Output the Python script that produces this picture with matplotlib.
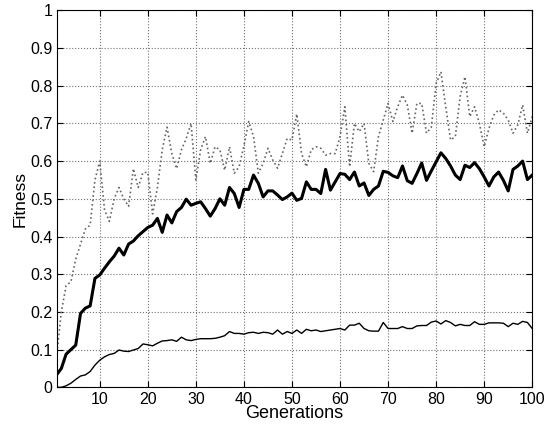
import numpy as np
import matplotlib
matplotlib.use("Agg")
import matplotlib.pyplot as plt

plt.rcParams["font.family"] = ["Liberation Sans", "DejaVu Sans"]

generations = np.arange(1, 101)

# best fitness per generation (dotted)
best = [
    0.08, 0.20, 0.27, 0.28, 0.34, 0.38, 0.42, 0.43, 0.55, 0.60,
    0.47, 0.44, 0.50, 0.53, 0.50, 0.48, 0.58, 0.53, 0.57, 0.57,
    0.46, 0.53, 0.63, 0.69, 0.62, 0.58, 0.63, 0.66, 0.70, 0.55,
    0.63, 0.665, 0.594, 0.638, 0.63, 0.576, 0.638, 0.568, 0.585, 0.64,
    0.705, 0.665, 0.568, 0.594, 0.634, 0.603, 0.581, 0.62, 0.66, 0.656,
    0.725, 0.62, 0.585, 0.63, 0.638, 0.634, 0.616, 0.62, 0.62, 0.665,
    0.744, 0.585, 0.70, 0.678, 0.70, 0.594, 0.572, 0.665, 0.709, 0.753,
    0.705, 0.744, 0.775, 0.749, 0.674, 0.753, 0.753, 0.674, 0.69, 0.806,
    0.837, 0.744, 0.656, 0.665, 0.771, 0.824, 0.718, 0.744, 0.70, 0.638,
    0.687, 0.722, 0.736, 0.727, 0.709, 0.674, 0.696, 0.749, 0.674, 0.718,
]

# mean fitness per generation (thick)
mean = [
    0.033, 0.05, 0.088, 0.10, 0.112, 0.196, 0.21, 0.216, 0.289, 0.298,
    0.316, 0.333, 0.348, 0.369, 0.351, 0.38, 0.388, 0.402, 0.413, 0.424,
    0.43, 0.448, 0.411, 0.457, 0.436, 0.466, 0.477, 0.499, 0.483, 0.488,
    0.492, 0.474, 0.454, 0.474, 0.50, 0.483, 0.53, 0.514, 0.477, 0.525,
    0.525, 0.563, 0.541, 0.505, 0.521, 0.521, 0.51, 0.498, 0.505, 0.515,
    0.496, 0.501, 0.545, 0.525, 0.525, 0.514, 0.578, 0.523, 0.545, 0.567,
    0.565, 0.551, 0.571, 0.534, 0.542, 0.509, 0.525, 0.534, 0.573, 0.57,
    0.561, 0.556, 0.587, 0.548, 0.541, 0.567, 0.595, 0.549, 0.574, 0.598,
    0.622, 0.607, 0.587, 0.563, 0.551, 0.589, 0.583, 0.596, 0.58, 0.558,
    0.534, 0.558, 0.571, 0.549, 0.521, 0.578, 0.587, 0.60, 0.551, 0.563,
]

# worst fitness per generation (thin)
worst = [
    0.0, 0.0, 0.004, 0.011, 0.021, 0.03, 0.033, 0.042, 0.059, 0.072,
    0.081, 0.087, 0.09, 0.099, 0.096, 0.095, 0.099, 0.103, 0.115, 0.113,
    0.11, 0.117, 0.123, 0.124, 0.126, 0.122, 0.133, 0.126, 0.124, 0.127,
    0.129, 0.129, 0.129, 0.13, 0.133, 0.137, 0.148, 0.143, 0.143, 0.141,
    0.145, 0.146, 0.143, 0.146, 0.145, 0.141, 0.152, 0.141, 0.148, 0.143,
    0.152, 0.143, 0.154, 0.15, 0.152, 0.148, 0.15, 0.152, 0.154, 0.156,
    0.152, 0.165, 0.165, 0.17, 0.156, 0.15, 0.149, 0.149, 0.172, 0.156,
    0.156, 0.156, 0.161, 0.156, 0.156, 0.163, 0.164, 0.164, 0.173, 0.176,
    0.168, 0.177, 0.172, 0.163, 0.167, 0.164, 0.164, 0.174, 0.167, 0.167,
    0.171, 0.171, 0.171, 0.17, 0.161, 0.17, 0.167, 0.175, 0.172, 0.156,
]

fig = plt.figure(figsize=(5.47, 4.28), dpi=100)
ax = fig.add_axes([0.1033, 0.095, 0.8697, 0.881])

ax.plot(generations, best, linestyle=":", color="0.4", linewidth=1.2)
ax.plot(generations, mean, color="black", linewidth=2.2)
ax.plot(generations, worst, color="black", linewidth=1.0)

ax.set_xlim(1, 100)
ax.set_ylim(0, 1)
ax.set_xticks(np.arange(10, 101, 10))
yt = np.arange(0, 1.01, 0.1)
ax.set_yticks(yt)
ax.set_yticklabels(["0"] + [f"{v:.1f}" for v in yt[1:-1]] + ["1"])
ax.grid(True, linestyle=":", color="0.45", linewidth=0.8)
ax.tick_params(direction="in", top=True, right=True, labelsize=11.5, length=4, pad=3)
for s in ax.spines.values():
    s.set_linewidth(0.8)

ax.set_xlabel("Generations", fontsize=13, labelpad=-1)
ax.set_ylabel("Fitness", fontsize=12.5, labelpad=2)

fig.savefig("out.png", dpi=100)
